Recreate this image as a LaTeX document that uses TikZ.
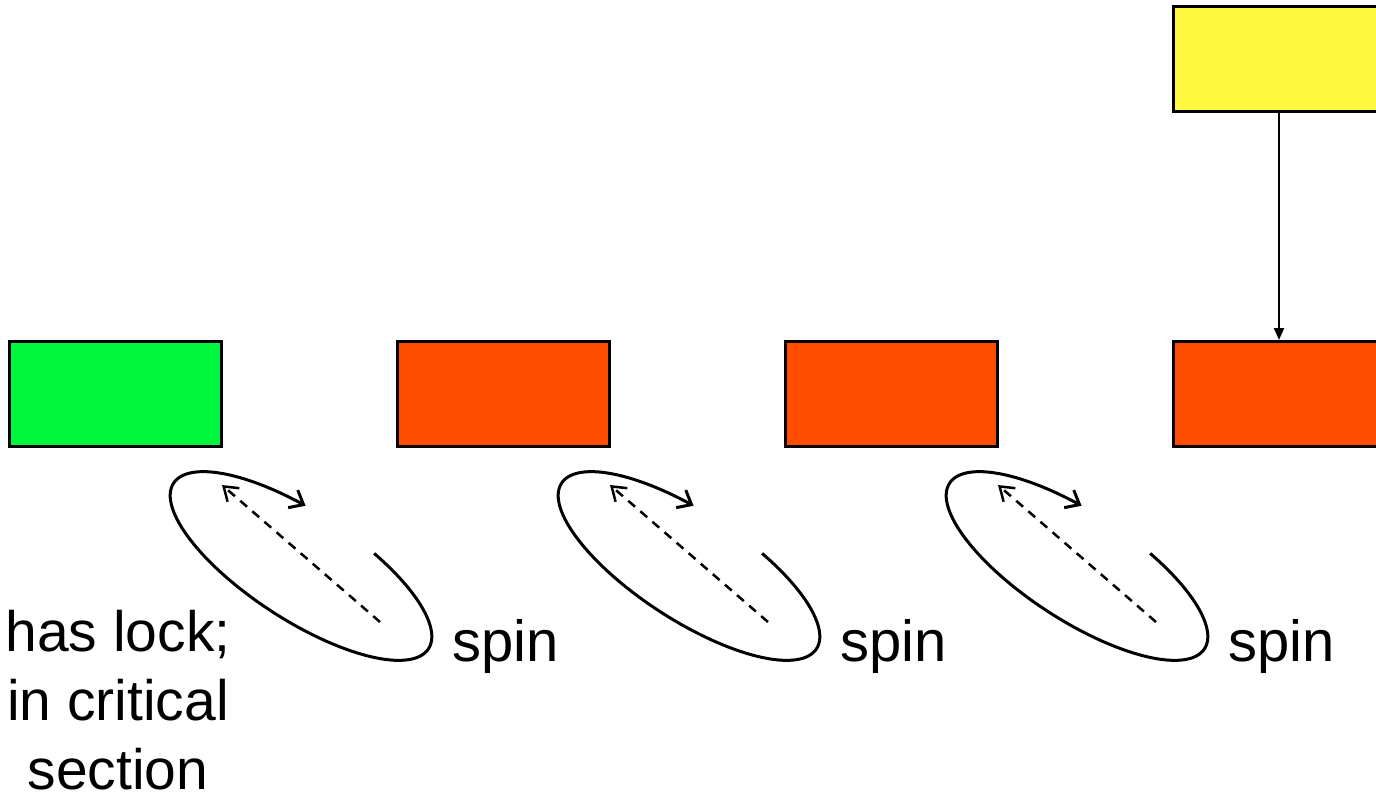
\documentclass[tikz,border=0pt]{standalone}
\usepackage{fontspec}
\setmainfont{Liberation Sans}
\usetikzlibrary{arrows.meta}
\definecolor{lockgreen}{RGB}{0,247,61}
\definecolor{waitorange}{RGB}{255,77,0}
\definecolor{headyellow}{RGB}{255,250,64}
\begin{document}
\begin{tikzpicture}[x=1pt,y=-1pt,
  proc/.style={draw=black, line width=3pt, minimum width=212pt,
    minimum height=105pt, inner sep=0pt, outer sep=0pt},
  spinlabel/.style={font=\fontsize{58}{70}\selectfont, anchor=base west, inner sep=0pt},
  loopline/.style={line width=3pt, -{Straight Barb[length=12pt,width=20pt]}},
  probe/.style={line width=2.5pt, dash pattern=on 9pt off 7pt,
    -{Straight Barb[length=13pt,width=18pt]}},
  handoff/.style={line width=2.2pt, -{Triangle[length=12pt,width=10pt]}, shorten >=1pt}]
\useasboundingbox (0,0) rectangle (1376,801);
\clip (0,0) rectangle (1376,801);

% processes in the queue
\node[proc, fill=lockgreen]  (p1) at (115,393.5) {};
\node[proc, fill=waitorange] (p2) at (503,393.5) {};
\node[proc, fill=waitorange] (p3) at (891,393.5) {};
\node[proc, fill=waitorange] (p4) at (1279,393.5) {};
\node[proc, fill=headyellow] (newp) at (1279,59) {};

\draw[handoff] (newp.south) -- (p4.north);

% spinning loops below the waiting processes
\foreach \i/\cx in {1/301, 2/689, 3/1077} {
  \draw[loopline] plot[domain=-69:259, samples=120, smooth]
    ({\cx + 152*cos(\x)*cos(33) - 54*sin(\x)*sin(33)},
     {566 + 152*cos(\x)*sin(33) + 54*sin(\x)*cos(33)});
  \draw[probe] (\cx+79,622) -- (\cx-79,485);
  \node[spinlabel] (spin\i) at (\cx+151,661) {spin};
}

\node[font=\fontsize{57}{69}\selectfont, align=center, anchor=north, inner sep=0pt]
  (holder) at (118,610) {has lock;\\in critical\\section};
\end{tikzpicture}
\end{document}
